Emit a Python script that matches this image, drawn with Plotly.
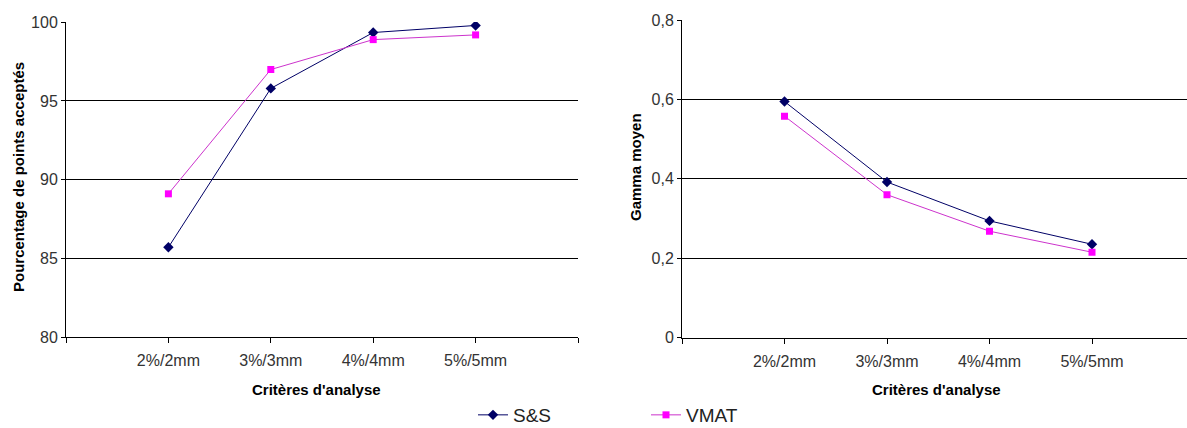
import plotly.graph_objects as go

W, H = 1187, 428

criteria = ["2%/2mm", "3%/3mm", "4%/4mm", "5%/5mm"]
pos = [1, 2, 3, 4]

pct_ss = [85.7, 95.8, 99.35, 99.8]
pct_vmat = [89.1, 97.0, 98.9, 99.2]

gamma_ss = [0.595, 0.392, 0.294, 0.235]
gamma_vmat = [0.558, 0.360, 0.268, 0.215]

left_yticks = [80, 85, 90, 95, 100]
right_yticks = [0, 0.2, 0.4, 0.6, 0.8]
right_yticktext = ["0", "0,2", "0,4", "0,6", "0,8"]

SS_COLOR = "#000066"
VMAT_COLOR = "#FF00FF"

def px_x(x):
    return x / W

def px_y(y):
    return 1 - y / H

fig = go.Figure()

ss_marker = dict(symbol="diamond", size=8, color=SS_COLOR)
vm_marker = dict(symbol="square", size=7, color=VMAT_COLOR)

fig.add_trace(go.Scatter(x=pos, y=pct_ss, mode="lines+markers", name="S&S",
                         line=dict(color=SS_COLOR, width=1), marker=ss_marker,
                         xaxis="x", yaxis="y", legendgroup="ss"))
fig.add_trace(go.Scatter(x=pos, y=pct_vmat, mode="lines+markers", name="VMAT",
                         line=dict(color="#CC33CC", width=1), marker=vm_marker,
                         xaxis="x", yaxis="y", legendgroup="vm"))
fig.add_trace(go.Scatter(x=pos, y=gamma_ss, mode="lines+markers", name="S&S",
                         line=dict(color=SS_COLOR, width=1), marker=ss_marker,
                         xaxis="x2", yaxis="y2", showlegend=False, legendgroup="ss"))
fig.add_trace(go.Scatter(x=pos, y=gamma_vmat, mode="lines+markers", name="VMAT",
                         line=dict(color="#CC33CC", width=1), marker=vm_marker,
                         xaxis="x2", yaxis="y2", showlegend=False, legendgroup="vm"))

tick_font = dict(family="Liberation Sans, Arial, sans-serif", size=16, color="#333333")
title_font = dict(family="Liberation Sans Narrow, Arial Narrow, Liberation Sans, sans-serif",
                  size=15, color="#000000")

xaxis_common = dict(
    tickvals=[0, 1, 2, 3, 4, 5],
    ticktext=[""] + criteria + [""],
    ticks="outside", ticklen=5, tickcolor="#000", tickwidth=1,
    showline=True, linecolor="#000", linewidth=1,
    showgrid=False, zeroline=False, tickfont=tick_font,
    ticklabelstandoff=4, automargin=False,
)

yaxis_common = dict(
    ticks="outside", ticklen=4, tickcolor="#000",
    showline=True, linecolor="#000", linewidth=1,
    showgrid=True, gridcolor="#000", gridwidth=1, zeroline=False,
    tickfont=tick_font, automargin=False,
)

cat_px = 102.5
fig.update_layout(
    width=W, height=H,
    paper_bgcolor="white", plot_bgcolor="white",
    margin=dict(l=0, r=0, t=0, b=0, autoexpand=False),
    xaxis=dict(domain=[px_x(66), px_x(578)], range=[0, 5], anchor="y", **xaxis_common),
    yaxis=dict(domain=[px_y(337), px_y(22)], range=[80, 100.02], anchor="x",
               tickvals=left_yticks, ticktext=[str(v) for v in left_yticks], **yaxis_common),
    xaxis2=dict(domain=[px_x(682), 1.0], range=[0, (W - 682) / cat_px], anchor="y2",
                **xaxis_common),
    yaxis2=dict(domain=[px_y(337.5), px_y(20)], range=[0, 0.8005], anchor="x2",
                tickvals=right_yticks, ticktext=right_yticktext, **yaxis_common),
    showlegend=True,
    legend=dict(orientation="h", x=px_x(473), y=px_y(415), xanchor="left", yanchor="middle",
                font=dict(family="Liberation Sans, Arial, sans-serif", size=19, color="#222"),
                entrywidth=128, entrywidthmode="pixels", bgcolor="rgba(0,0,0,0)",
                itemwidth=30),
    annotations=[
        dict(text="<b>Critères d'analyse</b>", x=px_x(316), y=px_y(389), xref="paper", yref="paper",
             showarrow=False, font=title_font, xanchor="center", yanchor="middle"),
        dict(text="<b>Critères d'analyse</b>", x=px_x(936), y=px_y(389), xref="paper", yref="paper",
             showarrow=False, font=title_font, xanchor="center", yanchor="middle"),
        dict(text="<b>Pourcentage de points acceptés</b>", x=px_x(19), y=px_y(177), xref="paper",
             yref="paper", showarrow=False, font=title_font, textangle=-90,
             xanchor="center", yanchor="middle"),
        dict(text="<b>Gamma moyen</b>", x=px_x(635), y=px_y(167), xref="paper",
             yref="paper", showarrow=False, font=title_font, textangle=-90,
             xanchor="center", yanchor="middle"),
    ],
)

fig.write_html(
    "out.html",
    config={"displayModeBar": False},
    post_script="document.body.style.margin='0';document.body.style.overflow='hidden';",
)
